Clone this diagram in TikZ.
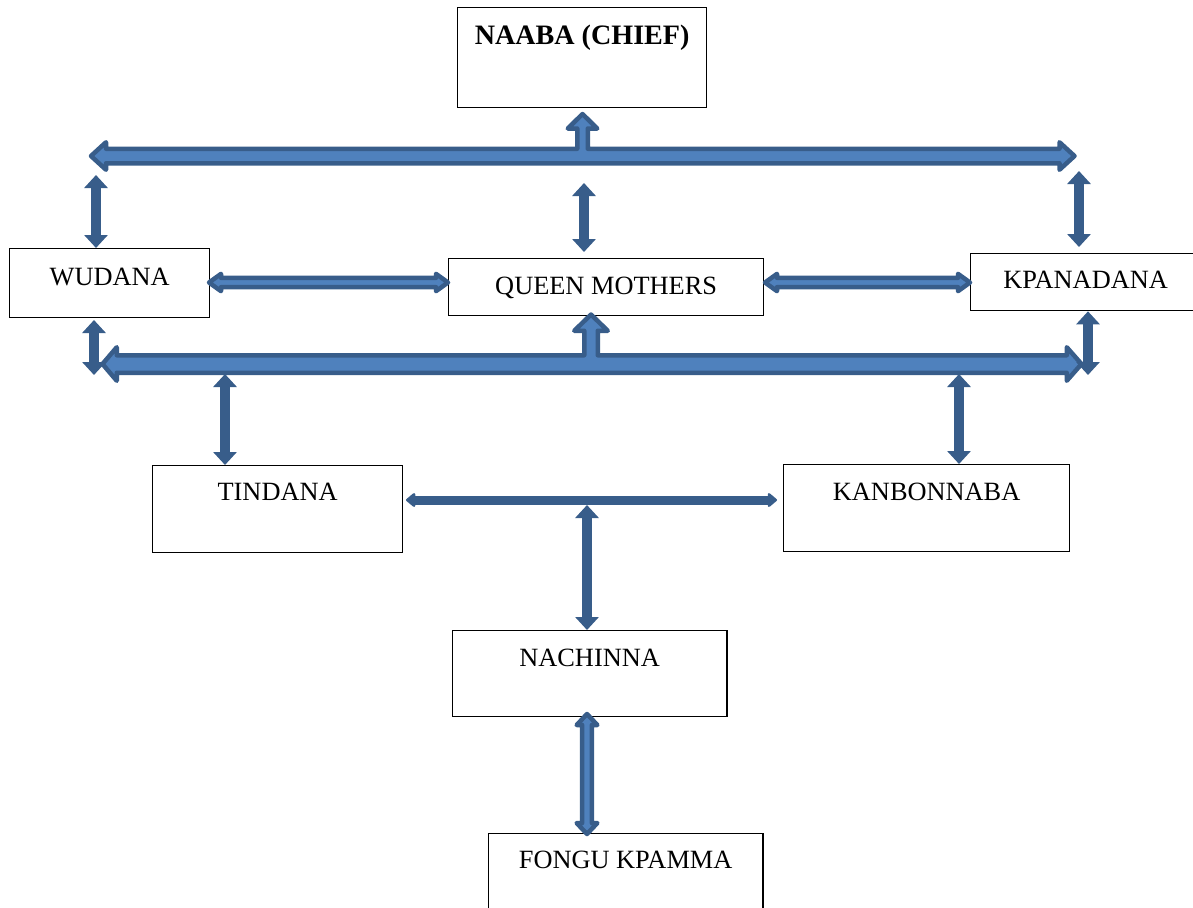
\documentclass[tikz,border=0pt]{standalone}
\usepackage{fontspec}
\setmainfont{Liberation Serif}
\usepackage{tikz}
\usetikzlibrary{arrows.meta, calc}
\definecolor{ArrowDark}{RGB}{56, 93, 138}
\definecolor{ArrowFill}{RGB}{79, 129, 189}

\begin{document}
\begin{tikzpicture}[
    x=0.02cm,
    y=-0.02cm,
    orgbox/.style={
        rectangle,
        draw=black,
        line width=0.75pt,
        fill=white,
        anchor=north west,
        inner sep=0pt,
        align=center,
        font=\fontsize{15}{18}\selectfont
    },
    blockarrow/.style={
        draw=ArrowDark,
        fill=ArrowFill,
        line width=0.09cm,
        line join=round
    },
    linkarrow/.style={
        draw=ArrowDark,
        line width=0.2cm,
        {Triangle[width=0.46cm,length=0.26cm]}-{Triangle[width=0.46cm,length=0.26cm]}
    },
    flatarrow/.style={
        draw=ArrowDark,
        line width=0.18cm,
        {Triangle[round,width=0.32cm,length=0.2cm]}-{Triangle[round,width=0.32cm,length=0.2cm]}
    }
]
\useasboundingbox (0,0) rectangle (1193,907);
% -------------------------------------------------------------
% BOXES
% -------------------------------------------------------------
\node[orgbox, minimum width=4.98cm, text height=0.74cm, text depth=1.26cm,
    font=\fontsize{16}{19}\selectfont\bfseries] (naabaNode) at (457,7)
{NAABA (CHIEF)};
\node[orgbox, minimum width=4.0cm, text height=0.73cm, text depth=0.65cm] (wudanaNode) at (9,248)
{WUDANA};
\node[orgbox, minimum width=6.3cm, text height=0.71cm, text depth=0.43cm] (queenNode) at (448,258)
{QUEEN MOTHERS};
\node[orgbox, minimum width=4.6cm, text height=0.70cm, text depth=0.44cm] (kpanadanaNode) at (970,253)
{KPANADANA};
\node[orgbox, minimum width=5.0cm, text height=0.70cm, text depth=1.04cm] (tindanaNode) at (152,465)
{TINDANA};
\node[orgbox, minimum width=5.72cm, text height=0.72cm, text depth=1.02cm] (kanbonnabaNode) at (783,464)
{KANBONNABA};
\node[orgbox, minimum width=5.5cm, text height=0.72cm, text depth=1.0cm] (nachinnaNode) at (451.5,630)
{NACHINNA};
\node[orgbox, minimum width=5.5cm, text height=0.69cm, text depth=1.11cm] (fonguNode) at (487.5,833)
{FONGU KPAMMA};
% -------------------------------------------------------------
% UPPER BAR (LEFT-RIGHT-UP)
% -------------------------------------------------------------
\filldraw[blockarrow]
(91,156) -- (106,142.25) -- (106,148.75) -- (577.25,148.75) -- (577.25,128.5)
-- (567.75,128.5) -- (582.5,114) -- (597.25,128.5) -- (587.75,128.5)
-- (587.75,148.75) -- (1059.5,148.75) -- (1059.5,142.25) -- (1074.5,156)
-- (1059.5,169.75) -- (1059.5,163.25) -- (106,163.25) -- (106,169.75) -- cycle;
% -------------------------------------------------------------
% LOWER BAR (LEFT-RIGHT-UP)
% -------------------------------------------------------------
\filldraw[blockarrow]
(102.5,364) -- (116.75,347.25) -- (116.75,355.25) -- (584.25,355.25) -- (584.25,330.75)
-- (574.25,330.75) -- (591,314.5) -- (607.75,330.75) -- (597.75,330.75)
-- (597.75,355.25) -- (1066.75,355.25) -- (1066.75,347.25) -- (1081.5,364)
-- (1066.75,380.75) -- (1066.75,372.75) -- (116.75,372.75) -- (116.75,380.75) -- cycle;
% -------------------------------------------------------------
% WUDANA - QUEEN MOTHERS - KPANADANA
% -------------------------------------------------------------
\filldraw[blockarrow]
(209,282.5) -- (221,273.85) -- (221,277.85) -- (436,277.85) -- (436,273.85)
-- (448,282.5) -- (436,291.15) -- (436,287.15) -- (221,287.15) -- (221,291.15) -- cycle;
\filldraw[blockarrow]
(765,282.5) -- (777,273.85) -- (777,277.85) -- (958,277.85) -- (958,273.85)
-- (970,282.5) -- (958,291.15) -- (958,287.15) -- (777,287.15) -- (777,291.15) -- cycle;
% -------------------------------------------------------------
% NACHINNA - FONGU KPAMMA
% -------------------------------------------------------------
\filldraw[blockarrow]
(587,714) -- (597.35,725) -- (591.85,725) -- (591.85,823) -- (597.35,823)
-- (587,834) -- (576.65,823) -- (582.15,823) -- (582.15,725) -- (576.65,725) -- cycle;
% -------------------------------------------------------------
% LINKS TO THE BARS
% -------------------------------------------------------------
\coordinate (wudanaTop) at (96,175);
\coordinate (queenTopA) at (584,183);
\coordinate (queenTopB) at (584,252);
\coordinate (kpanadanaTopA) at (1079,171);
\coordinate (kpanadanaTopB) at (1079,247);
\coordinate (wudanaLowA) at (94,320);
\coordinate (wudanaLowB) at (94,375);
\coordinate (kpanadanaLow) at (1088,375);
\coordinate (tindanaLink) at (225,374);
\coordinate (kanbonnabaLink) at (959,374);
\coordinate (crossLeft) at (406,500);
\coordinate (crossRight) at (777,500);
\coordinate (crossMid) at (587,505);

\draw[linkarrow] (wudanaTop) -- (wudanaTop |- wudanaNode.north);
\draw[linkarrow] (queenTopA) -- (queenTopB);
\draw[linkarrow] (kpanadanaTopA) -- (kpanadanaTopB);
\draw[linkarrow] (wudanaLowA) -- (wudanaLowB);
\draw[linkarrow] (kpanadanaLow |- kpanadanaNode.south) -- (kpanadanaLow);
\draw[linkarrow] (tindanaLink) -- (tindanaLink |- tindanaNode.north);
\draw[linkarrow] (kanbonnabaLink) -- (kanbonnabaLink |- kanbonnabaNode.north);
% -------------------------------------------------------------
% TINDANA - KANBONNABA - NACHINNA
% -------------------------------------------------------------
\draw[flatarrow] (crossLeft) -- (crossRight);
\draw[linkarrow] (crossMid) -- (crossMid |- nachinnaNode.north);
\end{tikzpicture}
\end{document}
